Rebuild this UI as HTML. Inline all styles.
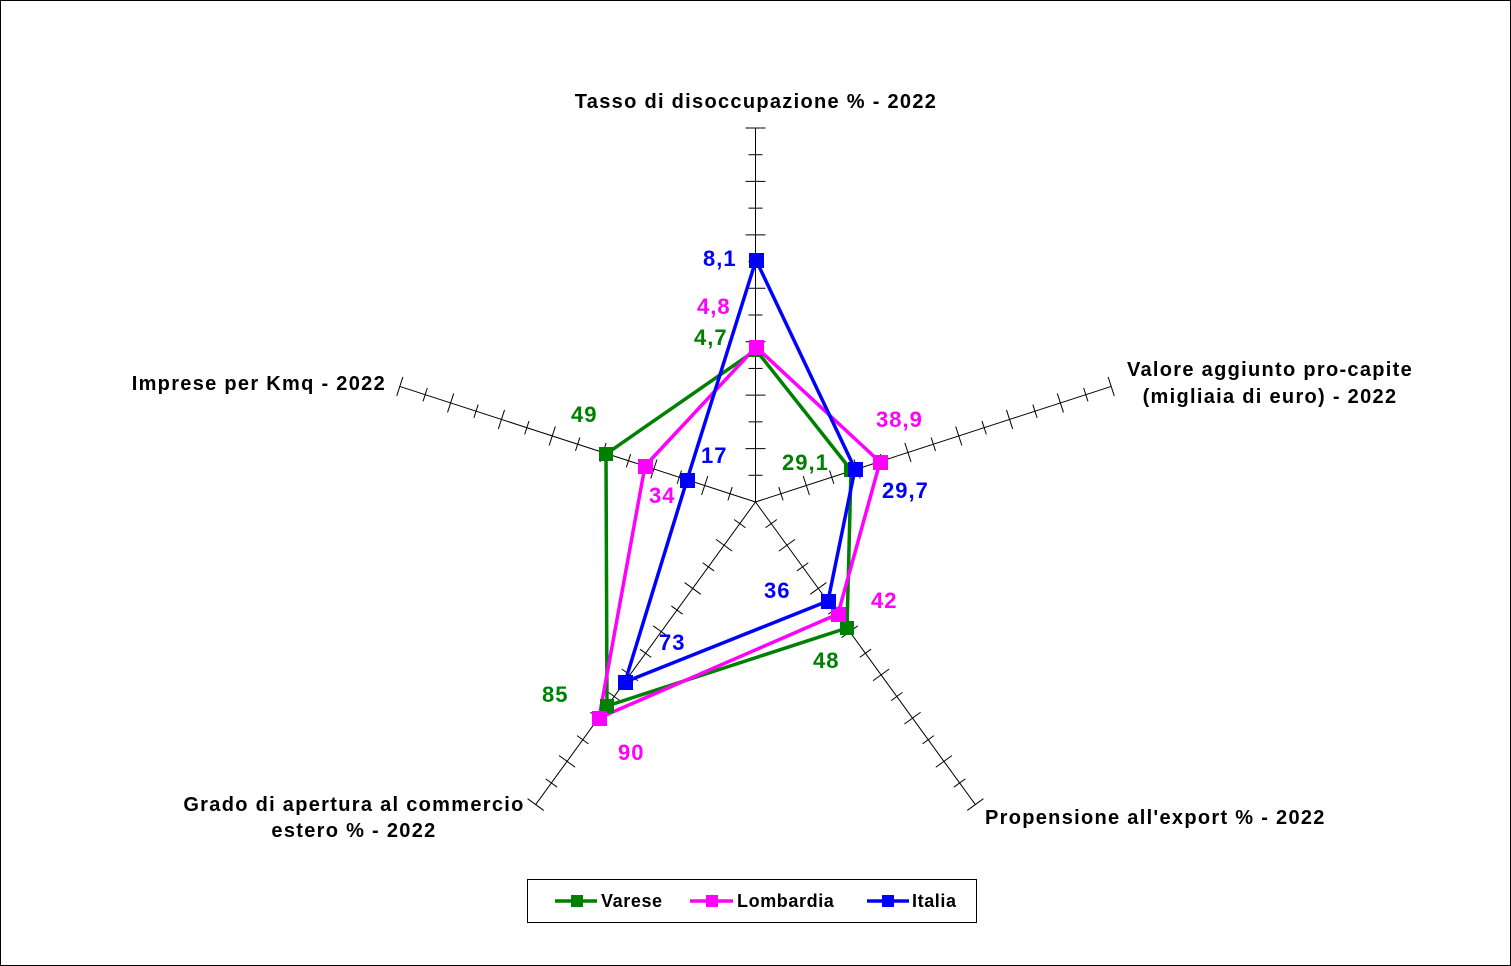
<!DOCTYPE html>
<html><head><meta charset="utf-8"><style>
html,body{margin:0;padding:0;background:#fff;}
svg{display:block;font-family:"Liberation Sans",Arial,sans-serif;font-weight:bold;}
</style></head><body>
<svg id="s" width="1511" height="966" viewBox="0 0 1511 966" xmlns="http://www.w3.org/2000/svg">
<rect x="0.5" y="0.5" width="1510" height="965" fill="#fff" stroke="#000" stroke-width="1"/>
<g id="axes" stroke="#000" stroke-width="1"></g>
<g fill="none" stroke-width="3.5" stroke-linejoin="miter">
<polygon points="756,350 851,470 847,628 607,706 606,454" stroke="#008000"/>
<polygon points="756,347 880,462 838,614 599,718 645,466" stroke="#ff00ff"/>
<polygon points="756,260 855,469 828,601 625,682 687,480" stroke="#0000ff"/>
</g>
<g fill="#008000">
<rect x="749" y="343" width="14" height="14"/><rect x="844" y="463" width="14" height="14"/><rect x="840" y="621" width="14" height="14"/><rect x="600" y="699" width="14" height="14"/><rect x="599" y="447" width="14" height="14"/>
</g>
<g fill="#ff00ff">
<rect x="749" y="340" width="15" height="15"/><rect x="873" y="455" width="15" height="15"/><rect x="831" y="607" width="15" height="15"/><rect x="592" y="711" width="15" height="15"/><rect x="638" y="459" width="15" height="15"/>
</g>
<g fill="#0000ff">
<rect x="749" y="253" width="15" height="15"/><rect x="848" y="462" width="15" height="15"/><rect x="821" y="594" width="15" height="15"/><rect x="618" y="675" width="15" height="15"/><rect x="680" y="473" width="15" height="15"/>
</g>
<g font-size="20" fill="#000" letter-spacing="1.3">
<text x="756" y="108" text-anchor="middle">Tasso di disoccupazione %  - 2022</text>
<text x="1270" y="376" text-anchor="middle">Valore aggiunto pro-capite</text>
<text x="1270" y="403" text-anchor="middle">(migliaia di euro) - 2022</text>
<text x="985" y="824">Propensione all'export %  - 2022</text>
<text x="354" y="811" text-anchor="middle">Grado di apertura al commercio</text>
<text x="354" y="837" text-anchor="middle">estero %  - 2022</text>
<text x="386" y="390" text-anchor="end">Imprese per Kmq - 2022</text>
</g>
<g font-size="22" letter-spacing="1">
<text x="703" y="266" fill="#0000ff">8,1</text>
<text x="697" y="314" fill="#ff00ff">4,8</text>
<text x="694" y="345" fill="#008000">4,7</text>
<text x="876" y="427" fill="#ff00ff">38,9</text>
<text x="782" y="470" fill="#008000">29,1</text>
<text x="882" y="498" fill="#0000ff">29,7</text>
<text x="764" y="598" fill="#0000ff">36</text>
<text x="871" y="608" fill="#ff00ff">42</text>
<text x="813" y="668" fill="#008000">48</text>
<text x="659" y="650" fill="#0000ff">73</text>
<text x="542" y="702" fill="#008000">85</text>
<text x="618" y="760" fill="#ff00ff">90</text>
<text x="571" y="422" fill="#008000">49</text>
<text x="701" y="463" fill="#0000ff">17</text>
<text x="649" y="503" fill="#ff00ff">34</text>
</g>
<rect x="527.5" y="879.5" width="449" height="43" fill="#fff" stroke="#000"/>
<g stroke-width="3.5">
<line x1="555" y1="901" x2="597" y2="901" stroke="#008000"/><rect x="571" y="895" width="12" height="12" fill="#008000"/>
<line x1="690" y1="901" x2="733" y2="901" stroke="#ff00ff"/><rect x="706" y="895" width="12" height="12" fill="#ff00ff"/>
<line x1="867" y1="901" x2="909" y2="901" stroke="#0000ff"/><rect x="882" y="895" width="12" height="12" fill="#0000ff"/>
</g>
<g font-size="18" fill="#000" letter-spacing="0.6">
<text x="601" y="907">Varese</text><text x="737" y="907">Lombardia</text><text x="912" y="907">Italia</text>
</g>
<script>
(function(){
var g=document.getElementById('axes'),cx=755.5,cy=502,L=374,n=14,ns='http://www.w3.org/2000/svg';
for(var k=0;k<5;k++){
 var a=(-90+72*k)*Math.PI/180,dx=Math.cos(a),dy=Math.sin(a),px=-dy,py=dx;
 var l=document.createElementNS(ns,'line');
 l.setAttribute('x1',cx);l.setAttribute('y1',cy);l.setAttribute('x2',cx+dx*L);l.setAttribute('y2',cy+dy*L);g.appendChild(l);
 for(var i=1;i<=n;i++){
  var d=L*i/n,h=(i%2==0)?10:7,x=cx+dx*d,y=cy+dy*d;
  var t=document.createElementNS(ns,'line');
  t.setAttribute('x1',x-px*h);t.setAttribute('y1',y-py*h);t.setAttribute('x2',x+px*h);t.setAttribute('y2',y+py*h);g.appendChild(t);
 }
}
})();
</script>
</svg>
</body></html>
